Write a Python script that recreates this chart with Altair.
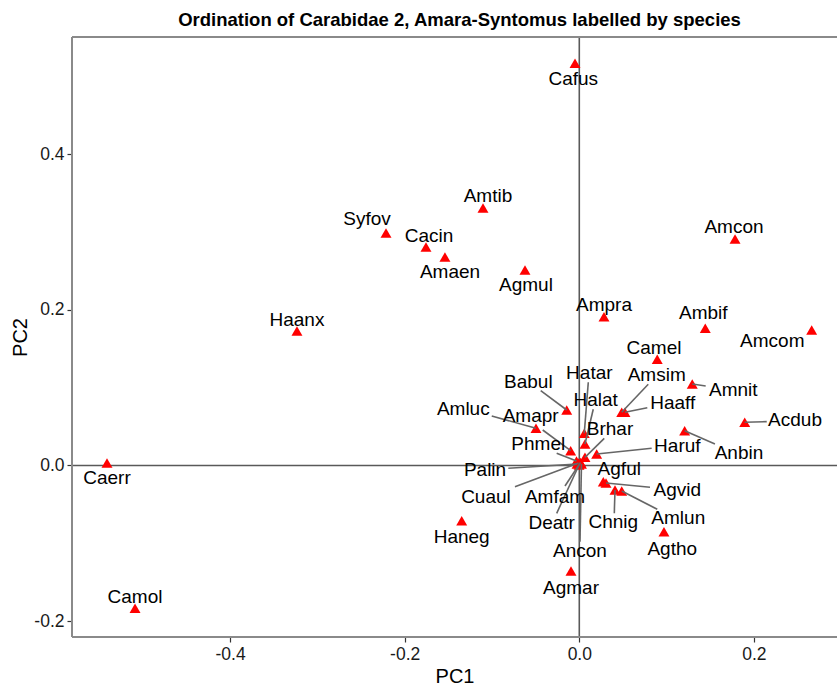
import altair as alt
import pandas as pd

# Species scores on the first two principal components
species = [
    "Cafus", "Amtib", "Syfov", "Cacin", "Amaen", "Agmul", "Amcon", "Ampra",
    "Haanx", "Ambif", "Amcom", "Camel", "Amsim", "Haaff", "Amnit", "Acdub",
    "Anbin", "Haruf", "Babul", "Amluc", "Amapr", "Hatar", "Halat", "Brhar",
    "Phmel", "Palin", "Cuaul", "Amfam", "Deatr", "Ancon", "Agful", "Agvid",
    "Chnig", "Amlun", "Agtho", "Haneg", "Agmar", "Caerr", "Camol",
]
pc1 = [
    -0.0049, -0.1103, -0.2214, -0.1756, -0.1539, -0.0622, 0.1784, 0.0283,
    -0.3234, 0.1443, 0.2662, 0.0893, 0.0486, 0.0523, 0.1294, 0.1895,
    0.1207, 0.0199, -0.0144, -0.0496, -0.0099, 0.0057, 0.0065, 0.0065,
    -0.0032, -0.0026, -0.0009, 0.0014, -0.0003, 0.0025, 0.0275, 0.0306,
    0.0409, 0.0486, 0.0970, -0.1347, -0.0095, -0.5410, -0.5089,
]
pc2 = [
    0.5166, 0.3308, 0.2987, 0.2806, 0.2678, 0.2511, 0.2909, 0.1911,
    0.1728, 0.1762, 0.1741, 0.1364, 0.0683, 0.0683, 0.1047, 0.0555,
    0.0447, 0.0148, 0.0713, 0.0478, 0.0190, 0.0414, 0.0276, 0.0105,
    0.0058, 0.0019, 0.0032, 0.0039, 0.0006, 0.0019, -0.0208, -0.0225,
    -0.0315, -0.0328, -0.0850, -0.0709, -0.1355, 0.0032, -0.1834,
]

# Repelled label positions (same units as the scores)
label_pc1 = [
    -0.0069, -0.1046, -0.2432, -0.1722, -0.1481, -0.0611, 0.1772, 0.0283,
    -0.3234, 0.1420, 0.2211, 0.0856, 0.0887, 0.1070, 0.1764, 0.2471,
    0.1829, 0.1123, -0.0584, -0.1329, -0.0557, 0.0115, 0.0188, 0.0352,
    -0.0470, -0.1080, -0.1069, -0.0278, -0.0316, 0.0008, 0.0458, 0.1123,
    0.0389, 0.1134, 0.1065, -0.1347, -0.0095, -0.5410, -0.5089,
]
label_pc2 = [
    0.4965, 0.3462, 0.3166, 0.2954, 0.2486, 0.2319, 0.3063, 0.2061,
    0.1869, 0.1955, 0.1599, 0.1513, 0.1163, 0.0807, 0.0970, 0.0584,
    0.0157, 0.0254, 0.1076, 0.0722, 0.0636, 0.1184, 0.0841, 0.0465,
    0.0276, -0.0058, -0.0401, -0.0401, -0.0735, -0.1092, -0.0049, -0.0315,
    -0.0722, -0.0678, -0.1076, -0.0915, -0.1574, -0.0161, -0.1685,
]

# Label end of each leader line; None where the label sits beside its point
leader_pc1 = [
    None, None, None, None, None, None, None, None,
    None, None, None, None, 0.0790, 0.0779, 0.1448, 0.2147,
    0.1554, 0.0829, -0.0442, -0.1003, -0.0419, 0.0103, 0.0160, 0.0286,
    -0.0259, -0.0813, -0.0737, -0.0164, -0.0259, 0.0008, None, 0.0810,
    0.0401, 0.0893, None, None, None, None, None,
]
leader_pc2 = [
    None, None, None, None, None, None, None, None,
    None, None, None, None, 0.1043, 0.0742, 0.1021, 0.0563,
    0.0276, 0.0221, 0.0961, 0.0636, 0.0456, 0.1069, 0.0722, 0.0349,
    0.0157, -0.0036, -0.0272, -0.0263, -0.0614, -0.0979, None, -0.0280,
    -0.0614, -0.0563, None, None, None, None, None,
]

x_ticks = [-0.4, -0.2, 0.0, 0.2]
y_ticks = [-0.2, 0.0, 0.2, 0.4]
x_domain = [-0.5811, 0.2952]
y_domain = [-0.2203, 0.5504]

FONT = "Liberation Sans"
W, H = 765, 600

scores = pd.DataFrame({
    "species": species, "PC1": pc1, "PC2": pc2,
    "lx": label_pc1, "ly": label_pc2,
})
leaders = pd.DataFrame({
    "species": species, "PC1": pc1, "PC2": pc2,
    "sx": leader_pc1, "sy": leader_pc2,
}).dropna()

xs = alt.Scale(domain=x_domain, nice=False, zero=False)
ys = alt.Scale(domain=y_domain, nice=False, zero=False)

# tick labels with a plain hyphen as the minus sign
tick_expr = (
    "datum.value < 0 ? '-' + format(abs(datum.value), '.1f') "
    ": format(datum.value, '.1f')"
)
x_axis = alt.Axis(values=x_ticks, labelExpr=tick_expr, title="PC1")
y_axis = alt.Axis(values=y_ticks, labelExpr=tick_expr, title="PC2")

zero = pd.DataFrame({"v": [0.0]})
vzero = alt.Chart(zero).mark_rule(color="#595959", strokeWidth=1.6).encode(
    x=alt.X("v:Q", scale=xs, axis=x_axis)
)
hzero = alt.Chart(zero).mark_rule(color="#595959", strokeWidth=1.6).encode(
    y=alt.Y("v:Q", scale=ys, axis=y_axis)
)

points = alt.Chart(scores).mark_point(
    shape="triangle-up", filled=True, opacity=1, color="#ff0000", size=120
).encode(
    x=alt.X("PC1:Q", scale=xs),
    y=alt.Y("PC2:Q", scale=ys),
)

segs = alt.Chart(leaders).mark_rule(color="#666666", strokeWidth=1.6).encode(
    x=alt.X("sx:Q", scale=xs),
    y=alt.Y("sy:Q", scale=ys),
    x2="PC1:Q",
    y2="PC2:Q",
)

labels = alt.Chart(scores).mark_text(
    font=FONT, fontSize=19, color="#000000", align="center", baseline="middle"
).encode(
    x=alt.X("lx:Q", scale=xs),
    y=alt.Y("ly:Q", scale=ys),
    text="species:N",
)

# Panel border on the top, left and bottom sides
border_style = dict(color="#8a8a8a", strokeWidth=2)
top = alt.Chart(zero).mark_rule(**border_style).encode(
    x=alt.value(0), x2=alt.value(W), y=alt.value(0)
)
left = alt.Chart(zero).mark_rule(**border_style).encode(
    x=alt.value(0), y=alt.value(0), y2=alt.value(H)
)
bottom = alt.Chart(zero).mark_rule(**border_style).encode(
    x=alt.value(0), x2=alt.value(W), y=alt.value(H)
)

chart = alt.layer(vzero, hzero, points, segs, labels, top, left, bottom).properties(
    width=W,
    height=H,
    autosize=alt.AutoSizeParams(type="none"),
    padding={"left": 72, "top": 37, "right": 0, "bottom": 49},
    title=alt.TitleParams(
        text="Ordination of Carabidae 2, Amara-Syntomus labelled by species",
        font=FONT, fontSize=18.5, fontWeight="bold", color="#000000",
        anchor="middle", offset=7, dx=5,
    ),
).configure_view(stroke=None).configure_axis(
    grid=False,
    domain=False,
    tickColor="#333333",
    tickSize=5,
    tickWidth=1.2,
    labelFont=FONT,
    labelFontSize=17.5,
    labelColor="#1a1a1a",
    labelPadding=3,
    titleFont=FONT,
    titleFontSize=20,
    titleFontWeight="normal",
    titleColor="#000000",
).configure_axisX(titlePadding=4).configure_axisY(titlePadding=3)

chart.save("out.html", embed_options={"renderer": "svg", "actions": False})
